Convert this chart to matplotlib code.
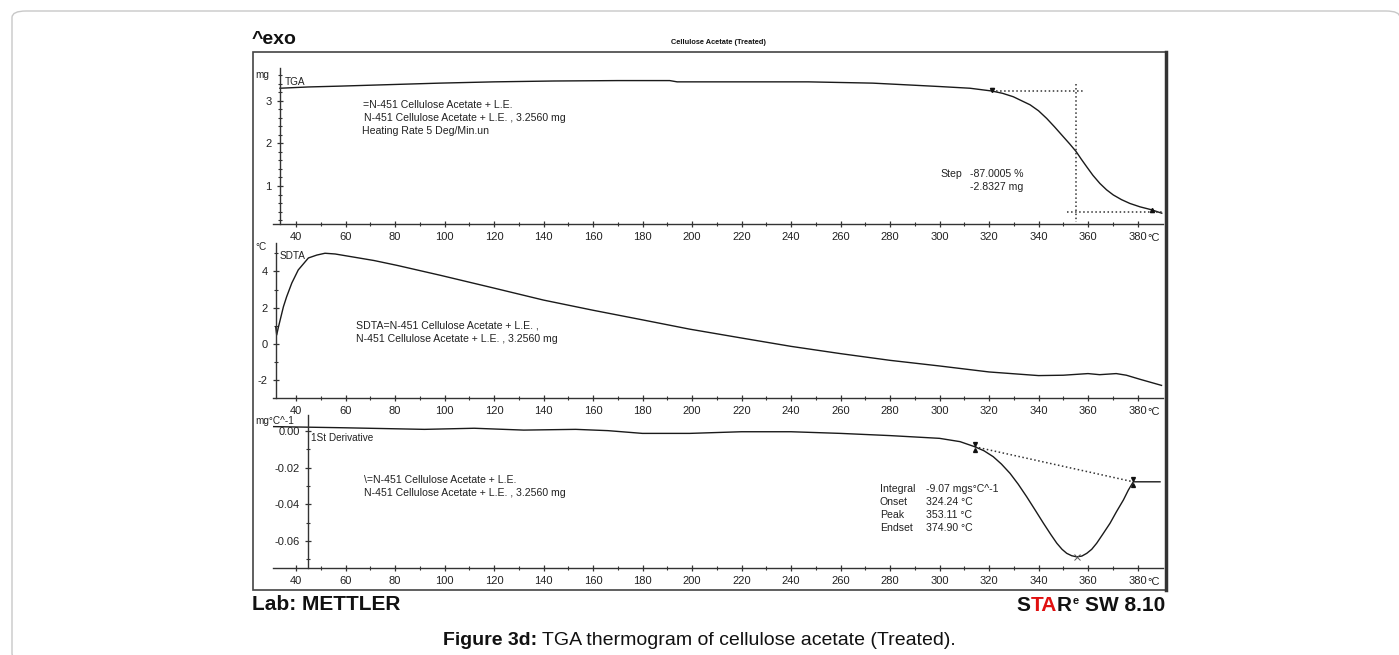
import matplotlib
matplotlib.use('Agg')
import matplotlib.pyplot as plt
from matplotlib.patches import Rectangle, FancyBboxPatch
from matplotlib.ticker import MultipleLocator, FixedLocator, FuncFormatter
from matplotlib.lines import Line2D

plt.rcParams['font.family'] = ['Liberation Sans', 'DejaVu Sans']
plt.rcParams['axes.unicode_minus'] = False

# ---------------- data ----------------
tga_temp = [33.5, 45, 58, 75, 98, 120, 144, 170, 191, 194, 220, 247, 273, 290, 300,
            312.3, 321.1, 325.5, 329.8, 336.6, 340, 343.3, 346.5, 350, 352.6, 355.2,
            357.3, 359.5, 362, 364.8, 367.5, 370.2, 373.5, 376.9, 381, 385.7, 389.8]
tga_mass = [3.30, 3.33, 3.35, 3.38, 3.42, 3.45, 3.47, 3.48, 3.48, 3.45, 3.45, 3.45,
            3.42, 3.37, 3.34, 3.30, 3.235, 3.18, 3.10, 2.91, 2.77, 2.59, 2.39, 2.16,
            1.99, 1.81, 1.63, 1.45, 1.25, 1.06, 0.91, 0.79, 0.68, 0.59, 0.51, 0.44, 0.36]

sdta_temp = [31.8, 32.2, 32.8, 34.9, 36.2, 38.3, 40.9, 45.0, 48.4, 51.7, 55.8, 71.5,
             80.9, 98.5, 120, 140, 160, 180, 199, 220, 240, 260, 280, 300, 320, 331,
             340, 350, 360, 364.7, 371.4, 375.5, 380.9, 389.7]
sdta_val = [0.95, 0.5, 0.88, 2.05, 2.6, 3.36, 4.08, 4.74, 4.9, 5.0, 4.96, 4.6, 4.33,
            3.78, 3.08, 2.42, 1.86, 1.33, 0.82, 0.33, -0.13, -0.53, -0.9, -1.21, -1.54,
            -1.65, -1.74, -1.72, -1.63, -1.69, -1.63, -1.72, -1.94, -2.28]

dtg_temp = [30.7, 58, 91.9, 112, 132, 153, 166, 180, 199, 220, 240, 260, 280, 300,
            308.3, 314.3, 318, 321.7, 325, 328.5, 331.8, 335.2, 338.6, 342, 345,
            347.4, 349.5, 351.4, 353.4, 355.4, 357.5, 359.5, 361.5, 363.5, 366,
            368.9, 371.5, 374.3, 376.3, 378.3, 389.1]
dtg_val = [0.0024, 0.0018, 0.0009, 0.0015, 0.0005, 0.0009, 0.0002, -0.0013, -0.0013,
           -0.0004, -0.0004, -0.0013, -0.0025, -0.0040, -0.0058, -0.0086, -0.0108,
           -0.0140, -0.0180, -0.0231, -0.0290, -0.0358, -0.0430, -0.0503, -0.0565,
           -0.0612, -0.0645, -0.0667, -0.0680, -0.0686, -0.0682, -0.0667, -0.0645,
           -0.0612, -0.0562, -0.0503, -0.0440, -0.0376, -0.0322, -0.0277, -0.0277]

# evaluation marks
tga_step_start = (321.1, 3.235)
tga_step_end = (385.7, 0.395)
tga_mid_temp = 355.2
dtg_base_start = (314.3, -0.0086)
dtg_base_end = (378.3, -0.0277)
dtg_peak = (355.4, -0.0686)

x_major = list(range(40, 381, 20))
x_minor = list(range(50, 371, 20))

# ---------------- figure ----------------
W, H = 1399, 655
fig = plt.figure(figsize=(W / 100, H / 100), dpi=100)
fig.patch.set_facecolor('white')


def fx(px):
    return px / W


def fy(py):
    return 1 - py / H


# outer light-grey rounded border
fig.patches.append(FancyBboxPatch((fx(12), fy(660)), fx(1400) - fx(12), fy(11) - fy(660),
                                  boxstyle='round,pad=0,rounding_size=0.01',
                                  transform=fig.transFigure, fill=False,
                                  edgecolor='#c8c8c8', linewidth=1.0))
# chart frame
fig.patches.append(Rectangle((fx(253), fy(590)), fx(1166) - fx(253), fy(52) - fy(590),
                             transform=fig.transFigure, fill=False,
                             edgecolor='#444444', linewidth=1.2))
fig.lines.append(Line2D([fx(1166), fx(1166)], [fy(590), fy(52)], transform=fig.transFigure,
                        color='#333333', linewidth=2.5))

XL = (30.7, 390.3)
TXT = '#222222'
FS_TICK = 8
FS_ANN = 7.6


def make_axes(top, bottom, ylim, spine_x, ymaj, ymin, fmt):
    ax = fig.add_axes([fx(273), fy(bottom), fx(1163) - fx(273), fy(top) - fy(bottom)])
    ax.set_facecolor('none')
    ax.set_xlim(*XL)
    ax.set_ylim(*ylim)
    for s in ('top', 'right'):
        ax.spines[s].set_visible(False)
    ax.spines['left'].set_position(('data', spine_x))
    for s in ('left', 'bottom'):
        ax.spines[s].set_color('#333333')
        ax.spines[s].set_linewidth(1.0)
    ax.xaxis.set_major_locator(FixedLocator(x_major))
    ax.xaxis.set_minor_locator(FixedLocator(x_minor))
    ax.yaxis.set_major_locator(FixedLocator(ymaj))
    ax.yaxis.set_minor_locator(MultipleLocator(ymin))
    ax.yaxis.set_major_formatter(FuncFormatter(fmt))
    ax.tick_params(which='major', direction='inout', length=5, width=0.9, color='#333333',
                   labelsize=FS_TICK, labelcolor=TXT)
    ax.tick_params(which='minor', direction='inout', length=3, width=0.8, color='#333333')
    ax.annotate('°C', xy=(380, 0), xycoords=('data', 'axes fraction'), xytext=(7, -10),
                textcoords='offset points', ha='left', va='center', fontsize=FS_TICK,
                color=TXT, annotation_clip=False)
    return ax


# ---------------- TGA ----------------
ax1 = make_axes(68, 224, (0.106, 3.776), 33.5, [1, 2, 3], 0.2, lambda v, p: '%d' % v)
ax1.plot(tga_temp, tga_mass, color='#1a1a1a', lw=1.0)
ax1.plot([tga_step_start[0], 358.8], [tga_step_start[1]] * 2, ls=':', color='#333333', lw=1.1)
ax1.plot([351.4, tga_step_end[0] + 4.1], [tga_step_end[1]] * 2, ls=':', color='#333333', lw=1.1)
ax1.plot([tga_mid_temp] * 2, [3.39, 0.16], ls=':', color='#333333', lw=1.1)
ax1.plot([tga_step_start[0]], [tga_step_start[1] + 0.03], marker='v', ms=3, color='#111111')
ax1.plot([tga_step_end[0]], [tga_step_end[1] + 0.03], marker='^', ms=3, color='#111111')

# ---------------- SDTA ----------------
ax2 = make_axes(243, 398, (-2.975, 5.565), 31.8, [-2, 0, 2, 4], 1, lambda v, p: '%d' % v)
ax2.plot(sdta_temp, sdta_val, color='#1a1a1a', lw=1.0)

# ---------------- 1st derivative ----------------
ax3 = make_axes(415, 568, (-0.0747, 0.00873), 44.8, [0.0, -0.02, -0.04, -0.06], 0.01,
                lambda v, p: '%.2f' % v)
ax3.plot(dtg_temp, dtg_val, color='#1a1a1a', lw=1.0)
ax3.plot([dtg_base_start[0], dtg_base_end[0]], [dtg_base_start[1], dtg_base_end[1]],
         ls=':', color='#333333', lw=1.1)
for (xx, yy) in (dtg_base_start, dtg_base_end):
    ax3.plot([xx], [yy + 0.0017], marker='v', ms=2.8, color='#111111')
    ax3.plot([xx], [yy - 0.0017], marker='^', ms=2.8, color='#111111')
ax3.plot([dtg_peak[0]], [dtg_peak[1]], marker='x', ms=5, mew=0.7, color='#555555')


# ---------------- texts ----------------
def ptext(px, py, s, size=FS_ANN, ha='left', va='center', **kw):
    return fig.text(fx(px), fy(py), s, fontsize=size, ha=ha, va=va, color=kw.pop('color', TXT), **kw)


ptext(252, 40, '^exo', size=14, weight='bold', color='#111111')
ptext(718, 42, 'Cellulose Acetate (Treated)', size=5.3, ha='center', weight='bold', color='#111111')

ptext(255, 75, 'mg', size=7.2)
ptext(285, 82, 'TGA', size=7.2)
ptext(363, 105, '=N-451 Cellulose Acetate + L.E.')
ptext(364, 118, 'N-451 Cellulose Acetate + L.E. , 3.2560 mg')
ptext(362, 131, 'Heating Rate 5 Deg/Min.un')
ptext(940, 174, 'Step')
ptext(970, 174, '-87.0005 %')
ptext(970, 187, '-2.8327 mg')

ptext(255, 247, '°C', size=7.2)
ptext(280, 256, 'SDTA', size=7.2)
ptext(356, 326, 'SDTA=N-451 Cellulose Acetate + L.E. ,')
ptext(356, 339, 'N-451 Cellulose Acetate + L.E. , 3.2560 mg')

ptext(255, 421, 'mg°C^-1', size=7.2)
ptext(311, 438, '1St Derivative', size=7.2)
ptext(364, 480, '\\=N-451 Cellulose Acetate + L.E.')
ptext(364, 493, 'N-451 Cellulose Acetate + L.E. , 3.2560 mg')
for i, (k, v) in enumerate([('Integral', '-9.07 mgs°C^-1'), ('Onset', '324.24 °C'),
                            ('Peak', '353.11 °C'), ('Endset', '374.90 °C')]):
    ptext(880, 489 + 13 * i, k)
    ptext(926, 489 + 13 * i, v)

ptext(252, 605, 'Lab: METTLER', size=15, weight='bold', color='#111111')

renderer = fig.canvas.get_renderer()


def right_piece(xr, py, s, size, color, va='baseline'):
    t = fig.text(fx(xr), fy(py), s, fontsize=size, weight='bold', color=color, ha='right', va=va)
    return t.get_window_extent(renderer).x0


base = 611
x = right_piece(1165, base, 'SW 8.10', 15, '#111111')
x = right_piece(x - 6, base - 7, 'e', 8, '#111111')
x = right_piece(x - 0.5, base, 'R', 15, '#111111')
x = right_piece(x, base, 'TA', 15, '#e01010')
x = right_piece(x, base, 'S', 15, '#111111')

# caption
CAP_FS = 14
t1 = fig.text(0, fy(645), 'Figure 3d:', fontsize=CAP_FS, weight='bold', color='#111111', va='baseline')
t2 = fig.text(0, fy(645), ' TGA thermogram of cellulose acetate (Treated).', fontsize=CAP_FS,
              color='#111111', va='baseline')
w1 = t1.get_window_extent(renderer).width
w2 = t2.get_window_extent(renderer).width
x0 = 699 - (w1 + w2) / 2
t1.set_x(fx(x0))
t2.set_x(fx(x0 + w1))

fig.savefig('out.png', dpi=100)
